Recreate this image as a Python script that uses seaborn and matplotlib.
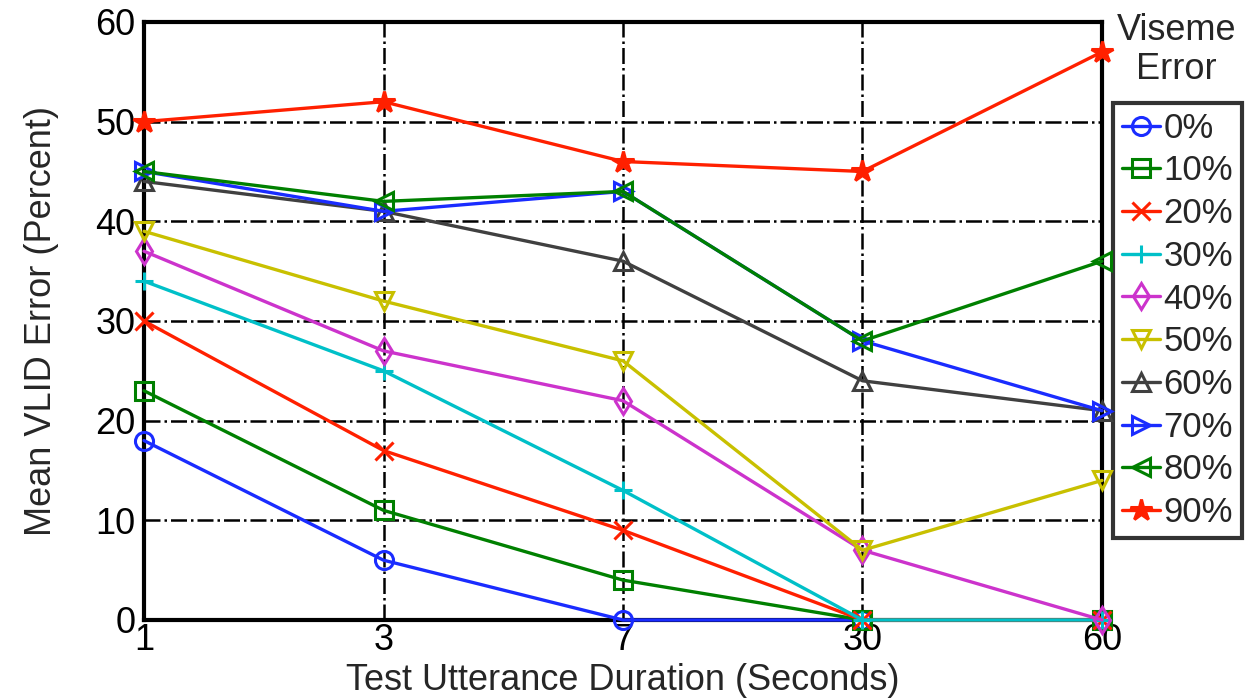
import matplotlib
matplotlib.use("Agg")
import matplotlib.pyplot as plt
import seaborn as sns
import pandas as pd

durations = ["1", "3", "7", "30", "60"]
levels = ["0%", "10%", "20%", "30%", "40%", "50%", "60%", "70%", "80%", "90%"]
err_0 = [18, 6, 0, 0, 0]
err_10 = [23, 11, 4, 0, 0]
err_20 = [30, 17, 9, 0, 0]
err_30 = [34, 25, 13, 0, 0]
err_40 = [37, 27, 22, 7, 0]
err_50 = [39, 32, 26, 7, 14]
err_60 = [44, 41, 36, 24, 21]
err_70 = [45, 41, 43, 28, 21]
err_80 = [45, 42, 43, 28, 36]
err_90 = [50, 52, 46, 45, 57]
series = [err_0, err_10, err_20, err_30, err_40, err_50, err_60, err_70, err_80, err_90]
yticks = [0, 10, 20, 30, 40, 50, 60]

colors = ["#1a2cff", "#008000", "#ff2000", "#00c0c8", "#cc33cc",
          "#c8c000", "#404040", "#1a2cff", "#008000", "#ff2000"]
markers = ["o", "s", "x", "+", "d", "v", "^", ">", "<", "*"]
filled = [False, False, False, False, False, False, False, False, False, True]

sns.set_theme(style="white")
plt.rcParams["font.family"] = ["Liberation Sans", "DejaVu Sans"]

rows = []
for lvl, vals in zip(levels, series):
    for i, v in enumerate(vals):
        rows.append({"pos": i, "err": v, "level": lvl})
df = pd.DataFrame(rows)

fig = plt.figure(figsize=(12.49, 7.0), dpi=100)
ax = fig.add_axes([0.1153, 0.1143, 0.7670, 0.8543])

for k, lvl in enumerate(levels):
    sub = df[df["level"] == lvl]
    ms = 16 if markers[k] == "*" else 13
    sns.lineplot(data=sub, x="pos", y="err", ax=ax, color=colors[k],
                 marker=markers[k], markersize=ms, markeredgewidth=2.2,
                 markerfacecolor=(colors[k] if filled[k] else "none"),
                 markeredgecolor=colors[k], linewidth=2.4, label=lvl,
                 legend=False, zorder=3 + k, clip_on=False)

ax.set_xlim(0, 4)
ax.set_ylim(0, 60)
ax.set_xticks(range(len(durations)))
ax.set_xticklabels(durations)
ax.set_yticks(yticks)
ax.set_yticklabels([str(t) for t in yticks])
ax.tick_params(axis="both", length=0, labelsize=26, colors="black")
ax.tick_params(axis="x", pad=2)
ax.tick_params(axis="y", pad=6)
ax.grid(True, color="black", linestyle="-.", linewidth=1.8, zorder=1)
ax.set_axisbelow(True)
for s in ax.spines.values():
    s.set_color("black")
    s.set_linewidth(3)
ax.set_xlabel("Test Utterance Duration (Seconds)", fontsize=26, labelpad=4)
ax.set_ylabel("Mean VLID Error (Percent)", fontsize=26, labelpad=26)

handles, labels = ax.get_legend_handles_labels()
leg = ax.legend(handles, labels, loc="upper left", bbox_to_anchor=(1.0115, 0.8645),
                fontsize=25, frameon=True, fancybox=False, edgecolor="black",
                borderpad=0.25, labelspacing=0.28, handlelength=1.1,
                handletextpad=0.1, borderaxespad=0)
leg.get_frame().set_linewidth(3)
fig.text(0.942, 0.928, "Viseme\nError", ha="center", va="center", fontsize=26,
         linespacing=1.15)

fig.savefig("out.png", dpi=100)
